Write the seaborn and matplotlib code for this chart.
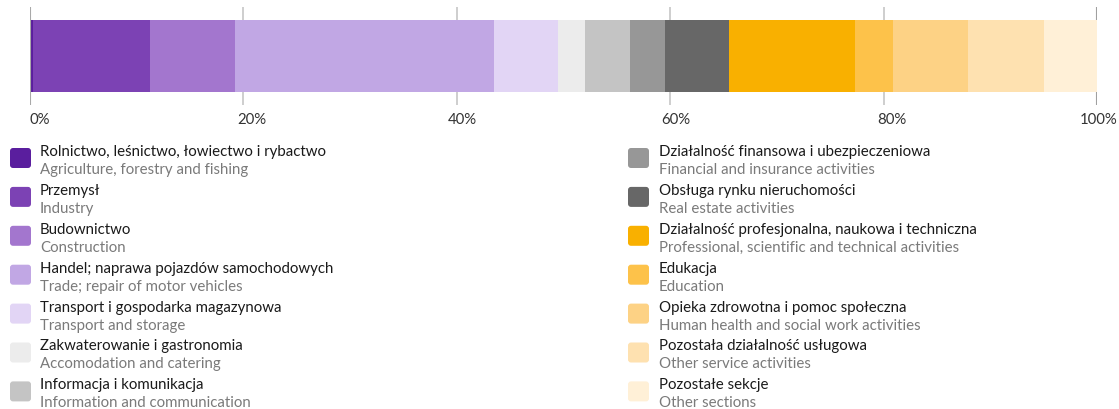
import matplotlib
matplotlib.use("Agg")
import matplotlib.pyplot as plt
from matplotlib.patches import FancyBboxPatch
import matplotlib.transforms as mtransforms
import pandas as pd
import seaborn as sns

# Sector shares of the economy (%)
sections_pl = [
    "Rolnictwo, leśnictwo, łowiectwo i rybactwo",
    "Przemysł",
    "Budownictwo",
    "Handel; naprawa pojazdów samochodowych",
    "Transport i gospodarka magazynowa",
    "Zakwaterowanie i gastronomia",
    "Informacja i komunikacja",
    "Działalność finansowa i ubezpieczeniowa",
    "Obsługa rynku nieruchomości",
    "Działalność profesjonalna, naukowa i techniczna",
    "Edukacja",
    "Opieka zdrowotna i pomoc społeczna",
    "Pozostała działalność usługowa",
    "Pozostałe sekcje",
]
sections_en = [
    "Agriculture, forestry and fishing",
    "Industry",
    "Construction",
    "Trade; repair of motor vehicles",
    "Transport and storage",
    "Accomodation and catering",
    "Information and communication",
    "Financial and insurance activities",
    "Real estate activities",
    "Professional, scientific and technical activities",
    "Education",
    "Human health and social work activities",
    "Other service activities",
    "Other sections",
]
shares = [0.25, 11.0, 8.0, 24.2, 6.0, 2.6, 4.2, 3.3, 6.0, 11.8, 3.5, 7.1, 7.1, 4.95]
colors = [
    "#5a1e9e", "#7c42b4", "#a376ce", "#c1a7e4", "#e2d5f5", "#ececec", "#c4c4c4",
    "#979797", "#676767", "#f9b000", "#fdc24a", "#fdd285", "#fee1b0", "#fff0d7",
]
tick_values = [0, 20, 40, 60, 80, 100]
tick_labels = ["0%", "20%", "40%", "60%", "80%", "100%"]

sns.set_theme(style="white")
plt.rcParams["font.family"] = ["Lato", "DejaVu Sans"]

W, H = 1119, 410
fig = plt.figure(figsize=(W / 100, H / 100), dpi=100)

df = pd.DataFrame({"share": shares, "color": colors})
df["end"] = df["share"].cumsum() / df["share"].sum() * 100
df["row"] = "all"

# Stacked bar: draw cumulative ends from the widest down so each segment shows
ax = fig.add_axes([30 / W, 1 - 106 / H, 1067 / W, 98 / H])
for _, r in df.iloc[::-1].iterrows():
    sns.barplot(data=pd.DataFrame({"end": [r["end"]], "row": [r["row"]]}),
                x="end", y="row", orient="h", color=r["color"], width=0.735,
                saturation=1, linewidth=0, edgecolor="none", ax=ax, zorder=3)

ax.set_xlim(0, 100)
ax.set_ylim(0.5, -0.5)
ax.set_xticks([])
ax.set_yticks([])
ax.set_xlabel("")
ax.set_ylabel("")
for s in ax.spines.values():
    s.set_visible(False)

# Grid lines: outer bounds darker and drawn over the bar edge at 0%
for v in tick_values:
    if v == 0:
        ax.axvline(v, color="#a9a9a9", lw=1.5, zorder=4)
    elif v == 100:
        ax.axvline(v, color="#a0a0a0", lw=1.5, zorder=1)
    else:
        ax.axvline(v, color="#c6c6c6", lw=1.2, zorder=1)

# Percent labels sit slightly right of their grid lines
label_shift_px = [10, 8, 6, 6, 8, 2]
for v, lab, dx in zip(tick_values, tick_labels, label_shift_px):
    off = mtransforms.ScaledTranslation(dx / 100, 0, fig.dpi_scale_trans)
    ax.text(v, -0.07, lab, transform=ax.get_xaxis_transform() + off,
            ha="center", va="top", fontsize=10.7, color="#333333")

# Legend drawn in pixel coordinates
lg = fig.add_axes([0, 0, 1, 1])
lg.set_xlim(0, W)
lg.set_ylim(H, 0)
lg.axis("off")
lg.patch.set_alpha(0)

n_left = 7
for i, (pl, en, c) in enumerate(zip(sections_pl, sections_en, colors)):
    col = i // n_left
    row = i % n_left
    top = 149 + row * 38.9
    sx = 10 if col == 0 else 628
    tx = 40 if col == 0 else 659
    lg.add_patch(FancyBboxPatch((sx + 2, top + 2), 17, 16,
                                boxstyle="round,pad=2,rounding_size=3",
                                facecolor=c, edgecolor="none"))
    lg.text(tx, top + 3, pl, fontsize=10.8, color="#1a1a1a", va="center", ha="left")
    lg.text(tx, top + 21, en, fontsize=10.8, color="#7a7a7a", va="center", ha="left")

fig.savefig("out.png", dpi=100)
